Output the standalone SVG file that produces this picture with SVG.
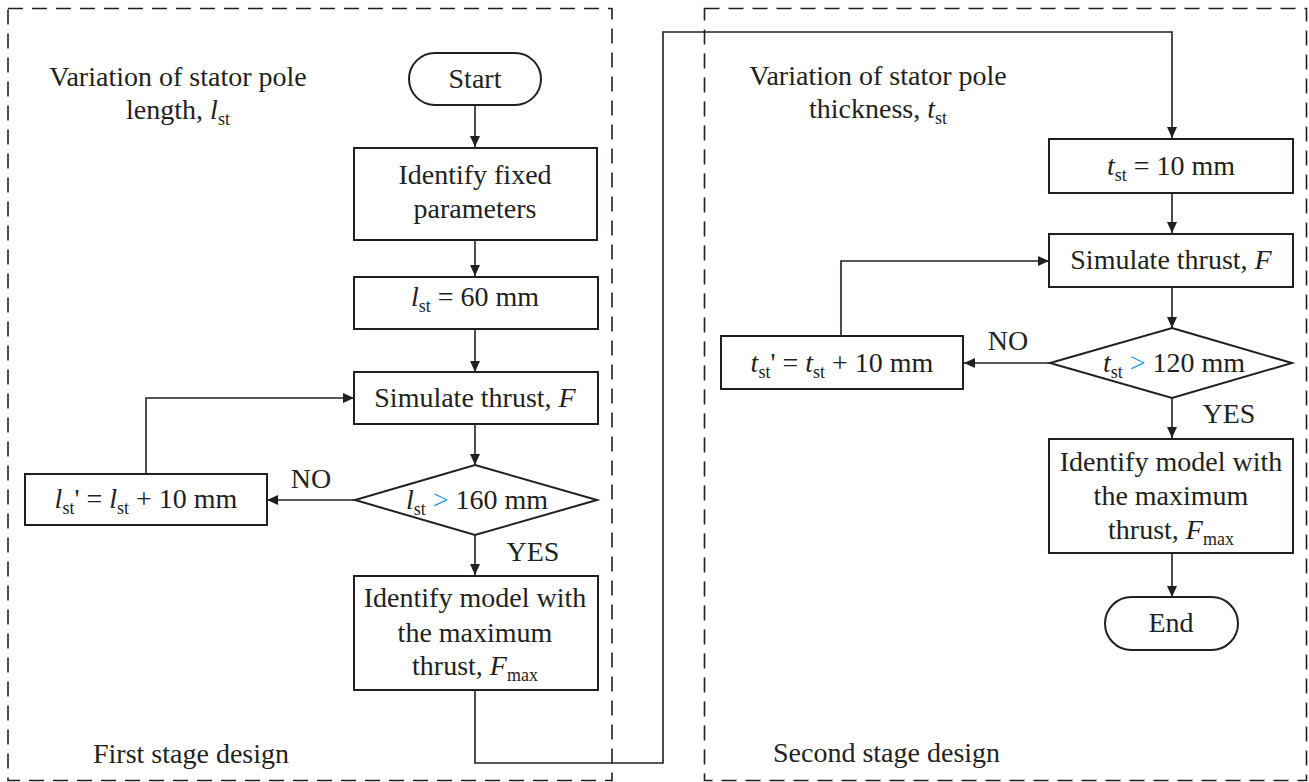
<svg xmlns="http://www.w3.org/2000/svg" width="1309" height="782" viewBox="0 0 1309 782">
<style>
text{font-family:"Liberation Serif","Times New Roman",serif;font-size:28px;fill:#231F20}
.c{text-anchor:middle}
.i{font-style:italic}
.s{font-size:18px}
.b{fill:#1E9FE8}
.n{fill:#fff;stroke:#231F20;stroke-width:2}
.stage{fill:none;stroke:#231F20;stroke-width:1.6;stroke-dasharray:15 9}
.e{fill:none;stroke:#231F20;stroke-width:1.6}
</style>
<defs>
<marker id="ah" markerUnits="userSpaceOnUse" markerWidth="11" markerHeight="10" refX="11" refY="5" orient="auto">
<path d="M0,0 L11,5 L0,10 z" fill="#231F20"/>
</marker>
</defs>
<rect width="1309" height="782" fill="#fff"/>

<g id="stage1">
<rect class="stage" x="8" y="8.5" width="604" height="772"/>
<text class="c" x="178" y="86">Variation of stator pole</text>
<text class="c" x="178" y="119">length, <tspan class="i">l</tspan><tspan class="s" dy="6">st</tspan></text>
<text x="93" y="763">First stage design</text>
</g>
<g id="stage2">
<rect class="stage" x="704.5" y="8.5" width="602" height="772"/>
<text class="c" x="878" y="85">Variation of stator pole</text>
<text class="c" x="878" y="118">thickness, <tspan class="i">t</tspan><tspan class="s" dy="6">st</tspan></text>
<text x="773" y="762">Second stage design</text>
</g>

<g id="edges">
<path class="e" d="M475,105 V147" marker-end="url(#ah)"/>
<path class="e" d="M475,240 V276" marker-end="url(#ah)"/>
<path class="e" d="M475,329 V372" marker-end="url(#ah)"/>
<path class="e" d="M475,424 V465" marker-end="url(#ah)"/>
<path class="e" d="M355,500 H267" marker-end="url(#ah)"/>
<path class="e" d="M146,474 V398 H354" marker-end="url(#ah)"/>
<path class="e" d="M475,535 V575" marker-end="url(#ah)"/>
<path class="e" d="M475,690 V763 H663 V32 H1172 V138" marker-end="url(#ah)"/>
<path class="e" d="M1172,193 V233" marker-end="url(#ah)"/>
<path class="e" d="M1172,287 V328" marker-end="url(#ah)"/>
<path class="e" d="M1050,363 H964" marker-end="url(#ah)"/>
<path class="e" d="M841,336 V261 H1049" marker-end="url(#ah)"/>
<path class="e" d="M1172,398 V438" marker-end="url(#ah)"/>
<path class="e" d="M1172,553 V597" marker-end="url(#ah)"/>
<text class="c" x="311" y="488">NO</text>
<text class="c" x="533" y="561">YES</text>
<text class="c" x="1008" y="350">NO</text>
<text class="c" x="1229" y="423">YES</text>
</g>

<g id="start">
<rect class="n" x="409" y="53" width="132" height="52" rx="26"/>
<text class="c" x="475" y="88">Start</text>
</g>
<g id="fixed">
<rect class="n" x="354" y="148" width="243" height="92"/>
<text class="c" x="475" y="184">Identify fixed</text>
<text class="c" x="475" y="218">parameters</text>
</g>
<g id="lst60">
<rect class="n" x="354" y="277" width="244" height="52"/>
<text class="c" x="475" y="306"><tspan class="i">l</tspan><tspan class="s" dy="6">st</tspan><tspan dy="-6"> = 60 mm</tspan></text>
</g>
<g id="sim1">
<rect class="n" x="354" y="372" width="244" height="52"/>
<text class="c" x="475" y="407">Simulate thrust, <tspan class="i">F</tspan></text>
</g>
<g id="dec1">
<polygon class="n" points="475,465 597,500 475,535 355,500"/>
<text class="c" x="477" y="509"><tspan class="i">l</tspan><tspan class="s" dy="6">st</tspan><tspan dy="-6"> </tspan><tspan class="b">&gt;</tspan> 160 mm</text>
</g>
<g id="inc1">
<rect class="n" x="25" y="474" width="242" height="51"/>
<text class="c" x="146" y="508"><tspan class="i">l</tspan><tspan class="s" dy="6">st</tspan><tspan dy="-6">' = </tspan><tspan class="i">l</tspan><tspan class="s" dy="6">st</tspan><tspan dy="-6"> + 10 mm</tspan></text>
</g>
<g id="max1">
<rect class="n" x="354" y="576" width="244" height="114"/>
<text class="c" x="475" y="607">Identify model with</text>
<text class="c" x="475" y="642">the maximum</text>
<text class="c" x="475" y="675">thrust, <tspan class="i">F</tspan><tspan class="s" dy="6">max</tspan></text>
</g>

<g id="tst10">
<rect class="n" x="1049" y="139" width="244" height="54"/>
<text class="c" x="1171" y="175"><tspan class="i">t</tspan><tspan class="s" dy="6">st</tspan><tspan dy="-6"> = 10 mm</tspan></text>
</g>
<g id="sim2">
<rect class="n" x="1049" y="234" width="244" height="53"/>
<text class="c" x="1171" y="269">Simulate thrust, <tspan class="i">F</tspan></text>
</g>
<g id="dec2">
<polygon class="n" points="1172,328 1292,363 1172,398 1050,363"/>
<text class="c" x="1174" y="372"><tspan class="i">t</tspan><tspan class="s" dy="6">st</tspan><tspan dy="-6"> </tspan><tspan class="b">&gt;</tspan> 120 mm</text>
</g>
<g id="inc2">
<rect class="n" x="721" y="336" width="242" height="53"/>
<text class="c" x="842" y="372"><tspan class="i">t</tspan><tspan class="s" dy="6">st</tspan><tspan dy="-6">' = </tspan><tspan class="i">t</tspan><tspan class="s" dy="6">st</tspan><tspan dy="-6"> + 10 mm</tspan></text>
</g>
<g id="max2">
<rect class="n" x="1049" y="439" width="244" height="114"/>
<text class="c" x="1171" y="471">Identify model with</text>
<text class="c" x="1171" y="505">the maximum</text>
<text class="c" x="1171" y="539">thrust, <tspan class="i">F</tspan><tspan class="s" dy="6">max</tspan></text>
</g>
<g id="end">
<rect class="n" x="1105" y="597" width="133" height="53" rx="26.5"/>
<text class="c" x="1171" y="632">End</text>
</g>
</svg>
